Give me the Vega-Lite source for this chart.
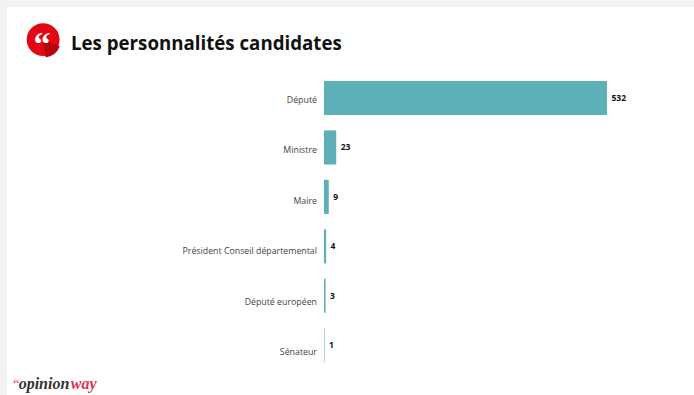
{
  "$schema": "https://vega.github.io/schema/vega-lite/v6.json",
  "width": 687,
  "height": 388,
  "autosize": "none",
  "padding": {"left": 7, "top": 7, "right": 0, "bottom": 0},
  "background": "#f3f3f3",
  "view": {"fill": "#ffffff", "stroke": null},
  "title": {
    "text": "Les personnalités candidates",
    "anchor": "start",
    "frame": "group",
    "dx": 64,
    "dy": 47,
    "offset": 0,
    "font": "Open Sans",
    "fontSize": 18.7,
    "fontWeight": "bold",
    "color": "#111111"
  },
  "data": {
    "values": [
      {"fonction": "Député", "n": 532},
      {"fonction": "Ministre", "n": 23},
      {"fonction": "Maire", "n": 9},
      {"fonction": "Président Conseil départemental", "n": 4},
      {"fonction": "Député européen", "n": 3},
      {"fonction": "Sénateur", "n": 1}
    ]
  },
  "resolve": {"scale": {"y": "independent"}},
  "layer": [
    {
      "mark": {"type": "bar", "color": "#5eb0b8"},
      "encoding": {
        "x": {
          "field": "n",
          "type": "quantitative",
          "axis": null,
          "scale": {"domain": [-595.9, 695.6], "nice": false, "zero": false}
        },
        "y": {
          "field": "fonction",
          "type": "nominal",
          "sort": null,
          "axis": null,
          "scale": {
            "type": "band",
            "round": false,
            "domain": ["", "Député", "Ministre", "Maire", "Président Conseil départemental", "Député européen", "Sénateur"],
            "paddingInner": 0.31,
            "paddingOuter": 0.58,
            "align": 0.428
          }
        }
      }
    },
    {
      "mark": {"type": "text", "align": "left", "baseline": "middle", "dx": 4.5, "font": "Open Sans", "fontSize": 8.5, "fontWeight": "bold", "color": "#111111"},
      "encoding": {
        "x": {"field": "n", "type": "quantitative"},
        "y": {
          "field": "fonction",
          "type": "nominal",
          "sort": null,
          "axis": null,
          "scale": {
            "type": "band",
            "round": false,
            "domain": ["", "Député", "Ministre", "Maire", "Président Conseil départemental", "Député européen", "Sénateur"],
            "paddingInner": 0.31,
            "paddingOuter": 0.58,
            "align": 0.428
          }
        },
        "text": {"field": "n", "type": "quantitative"}
      }
    },
    {
      "mark": {"type": "text", "align": "right", "baseline": "middle", "dx": -7, "font": "Open Sans", "fontSize": 8.8, "color": "#444444"},
      "encoding": {
        "x": {"datum": 0, "type": "quantitative"},
        "y": {
          "field": "fonction",
          "type": "nominal",
          "sort": null,
          "axis": null,
          "scale": {"type": "band", "round": false, "paddingInner": 0, "paddingOuter": 0.849, "align": 0.792}
        },
        "text": {"field": "fonction", "type": "nominal"}
      }
    },
    {
      "data": {"values": [{"element": "logo"}]},
      "mark": {"type": "point", "filled": true, "size": 1080, "shape": "circle", "color": "#e30613", "opacity": 1},
      "encoding": {
        "x": {"datum": -528, "type": "quantitative"},
        "y": {"datum": 0.916, "type": "quantitative", "axis": null, "scale": {"domain": [0, 1], "nice": false}}
      }
    },
    {
      "data": {"values": [{"element": "logo"}]},
      "mark": {"type": "arc", "radius": 18, "theta": 1.95, "theta2": 3.0, "fill": "#b5030f"},
      "encoding": {
        "x": {"datum": -528, "type": "quantitative"},
        "y": {"datum": 0.916, "type": "quantitative", "axis": null, "scale": {"domain": [0, 1], "nice": false}}
      }
    },
    {
      "data": {"values": [{"element": "logo"}]},
      "mark": {"type": "text", "text": "“", "align": "center", "baseline": "alphabetic", "font": "Liberation Serif", "fontWeight": "bold", "fontSize": 34, "color": "#ffffff"},
      "encoding": {
        "x": {"datum": -530, "type": "quantitative"},
        "y": {"datum": 0.877, "type": "quantitative", "axis": null, "scale": {"domain": [0, 1], "nice": false}}
      }
    },
    {
      "data": {"values": [{"element": "footer"}]},
      "mark": {"type": "text", "text": "“", "align": "left", "baseline": "alphabetic", "font": "Liberation Serif", "fontStyle": "italic", "fontSize": 14, "color": "#e0344f"},
      "encoding": {
        "x": {"datum": -587, "type": "quantitative"},
        "y": {"datum": 0.0155, "type": "quantitative", "axis": null, "scale": {"domain": [0, 1], "nice": false}}
      }
    },
    {
      "data": {"values": [{"element": "footer"}]},
      "mark": {"type": "text", "text": "opinion", "align": "left", "baseline": "alphabetic", "font": "Liberation Serif", "fontStyle": "italic", "fontWeight": "bold", "fontSize": 16, "color": "#333333"},
      "encoding": {
        "x": {"datum": -574, "type": "quantitative"},
        "y": {"datum": 0.0155, "type": "quantitative", "axis": null, "scale": {"domain": [0, 1], "nice": false}}
      }
    },
    {
      "data": {"values": [{"element": "footer"}]},
      "mark": {"type": "text", "text": "way", "align": "left", "baseline": "alphabetic", "font": "Liberation Serif", "fontStyle": "italic", "fontWeight": "bold", "fontSize": 16, "color": "#e0344f"},
      "encoding": {
        "x": {"datum": -476, "type": "quantitative"},
        "y": {"datum": 0.0155, "type": "quantitative", "axis": null, "scale": {"domain": [0, 1], "nice": false}}
      }
    }
  ]
}
